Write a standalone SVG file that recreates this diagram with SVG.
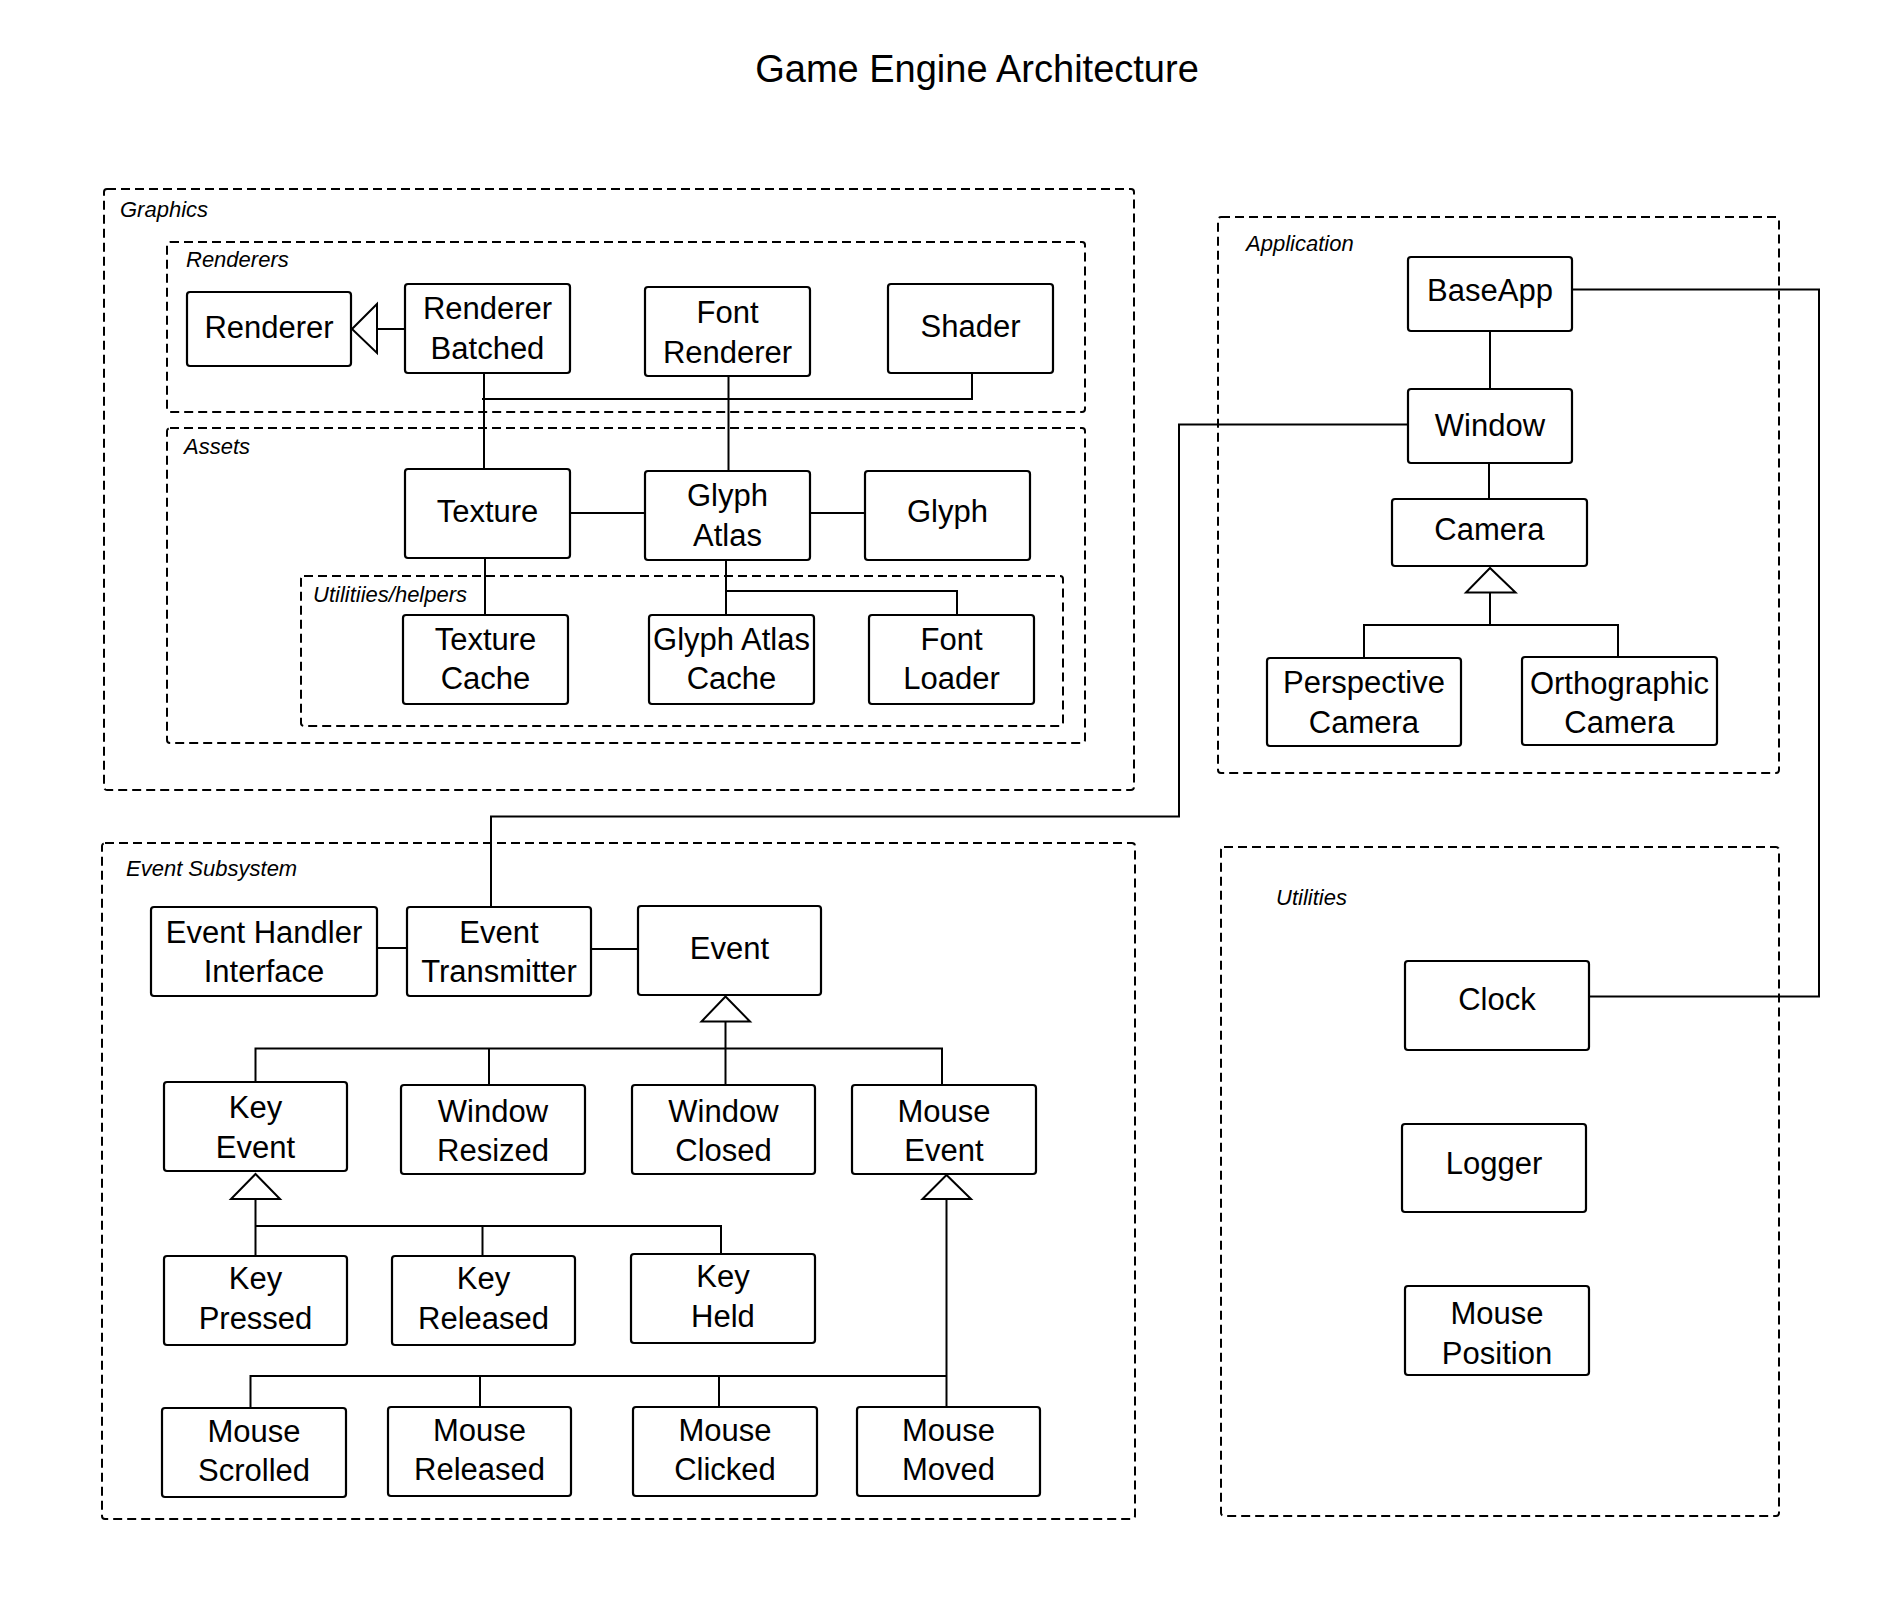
<svg xmlns="http://www.w3.org/2000/svg" width="1900" height="1600" viewBox="0 0 1900 1600">
<style>
.bg{fill:#ffffff}
.grp{fill:none;stroke:#000;stroke-width:2;stroke-dasharray:9 5}
.node rect{fill:#fff;stroke:#000;stroke-width:2.2}
.node text{font-family:"Liberation Sans",Arial,sans-serif;font-size:31px;fill:#000;text-anchor:middle}
.lbl{font-family:"Liberation Sans",Arial,sans-serif;font-size:22px;font-style:italic;fill:#000}
.title{font-family:"Liberation Sans",Arial,sans-serif;font-size:38px;fill:#000;text-anchor:middle}
#connectors line,#connectors polyline{fill:none;stroke:#000;stroke-width:2}
#connectors polygon{fill:#fff;stroke:#000;stroke-width:2}
</style>
<rect class="bg" x="0" y="0" width="1900" height="1600"/>
<text class="title" x="977" y="82">Game Engine Architecture</text>

<g id="groups">
  <g id="grp-graphics"><rect class="grp" x="104" y="189" width="1030" height="601" rx="3"/><text class="lbl" x="120" y="217">Graphics</text></g>
  <g id="grp-renderers"><rect class="grp" x="167" y="242" width="918" height="170" rx="3"/><text class="lbl" x="186" y="267">Renderers</text></g>
  <g id="grp-assets"><rect class="grp" x="167" y="428" width="918" height="315" rx="3"/><text class="lbl" x="184" y="454">Assets</text></g>
  <g id="grp-helpers"><rect class="grp" x="301" y="576" width="762" height="150" rx="3"/><text class="lbl" x="313" y="602">Utilitiies/helpers</text></g>
  <g id="grp-application"><rect class="grp" x="1218" y="217" width="561" height="556" rx="3"/><text class="lbl" x="1246" y="251">Application</text></g>
  <g id="grp-events"><rect class="grp" x="102" y="843" width="1033" height="676" rx="3"/><text class="lbl" x="126" y="876">Event Subsystem</text></g>
  <g id="grp-utilities"><rect class="grp" x="1221" y="847" width="558" height="669" rx="3"/><text class="lbl" x="1276" y="905">Utilities</text></g>
</g>

<g id="connectors">
  <!-- Renderer Batched -> Renderer (generalization) -->
  <line x1="405" y1="329" x2="377" y2="329"/>
  <polygon points="352,329 377,304 377,353"/>
  <!-- Renderer Batched / Texture -->
  <line x1="484" y1="373" x2="484" y2="469"/>
  <!-- Renderers bus to Shader -->
  <polyline points="482,399 972,399 972,373"/>
  <!-- Font Renderer / Glyph Atlas -->
  <line x1="728.5" y1="376" x2="728.5" y2="471"/>
  <!-- Texture / Glyph Atlas / Glyph -->
  <line x1="570" y1="513" x2="645" y2="513"/>
  <line x1="810" y1="513" x2="865" y2="513"/>
  <!-- Texture / Texture Cache -->
  <line x1="485" y1="558" x2="485" y2="615"/>
  <!-- Glyph Atlas / Glyph Atlas Cache / Font Loader -->
  <line x1="726" y1="560" x2="726" y2="615"/>
  <polyline points="726,591 957,591 957,615"/>

  <!-- Application -->
  <line x1="1490" y1="331" x2="1490" y2="389"/>
  <line x1="1489" y1="463" x2="1489" y2="499"/>
  <polygon points="1490,568 1466,592.5 1515.5,592.5"/>
  <line x1="1490" y1="592.5" x2="1490" y2="625"/>
  <polyline points="1364,658 1364,625 1618,625 1618,657"/>

  <!-- BaseApp -> Clock -->
  <polyline points="1572,289.5 1819,289.5 1819,996.5 1589,996.5"/>
  <!-- Window -> Event Transmitter -->
  <polyline points="1408,424.5 1179,424.5 1179,816.5 491,816.5 491,907"/>

  <!-- Event Subsystem top -->
  <line x1="377" y1="948" x2="407" y2="948"/>
  <line x1="591" y1="949" x2="638" y2="949"/>
  <polygon points="725.5,996.5 701.5,1021.5 750,1021.5"/>
  <line x1="725.5" y1="1021.5" x2="725.5" y2="1085"/>
  <polyline points="255.5,1082 255.5,1048.5 942,1048.5 942,1085"/>
  <line x1="489" y1="1048.5" x2="489" y2="1085"/>

  <!-- Key Event children -->
  <polygon points="255.5,1174 231,1199 280,1199"/>
  <line x1="255.5" y1="1199" x2="255.5" y2="1256"/>
  <polyline points="255.5,1226 721,1226 721,1254"/>
  <line x1="482.5" y1="1226" x2="482.5" y2="1256"/>

  <!-- Mouse Event children -->
  <polygon points="946.5,1175 922.5,1199 971,1199"/>
  <line x1="946.5" y1="1199" x2="946.5" y2="1407"/>
  <polyline points="250.5,1408 250.5,1376 946.5,1376"/>
  <line x1="480" y1="1376" x2="480" y2="1407"/>
  <line x1="719" y1="1376" x2="719" y2="1407"/>
</g>

<g id="n-renderer" class="node"><rect x="187" y="292" width="164" height="74" rx="3"/><text x="269" y="338">Renderer</text></g>
<g id="n-renderer-batched" class="node"><rect x="405" y="284" width="165" height="89" rx="3"/><text x="487.5" y="319">Renderer</text><text x="487.5" y="359">Batched</text></g>
<g id="n-font-renderer" class="node"><rect x="645" y="287" width="165" height="89" rx="3"/><text x="727.5" y="323">Font</text><text x="727.5" y="363">Renderer</text></g>
<g id="n-shader" class="node"><rect x="888" y="284" width="165" height="89" rx="3"/><text x="970.5" y="337">Shader</text></g>
<g id="n-texture" class="node"><rect x="405" y="469" width="165" height="89" rx="3"/><text x="487.5" y="522">Texture</text></g>
<g id="n-glyph-atlas" class="node"><rect x="645" y="471" width="165" height="89" rx="3"/><text x="727.5" y="506">Glyph</text><text x="727.5" y="546">Atlas</text></g>
<g id="n-glyph" class="node"><rect x="865" y="471" width="165" height="89" rx="3"/><text x="947.5" y="522">Glyph</text></g>
<g id="n-texture-cache" class="node"><rect x="403" y="615" width="165" height="89" rx="3"/><text x="485.5" y="650">Texture</text><text x="485.5" y="689">Cache</text></g>
<g id="n-glyph-atlas-cache" class="node"><rect x="649" y="615" width="165" height="89" rx="3"/><text x="731.5" y="650">Glyph Atlas</text><text x="731.5" y="689">Cache</text></g>
<g id="n-font-loader" class="node"><rect x="869" y="615" width="165" height="89" rx="3"/><text x="951.5" y="650">Font</text><text x="951.5" y="689">Loader</text></g>

<g id="n-baseapp" class="node"><rect x="1408" y="257" width="164" height="74" rx="3"/><text x="1490" y="301">BaseApp</text></g>
<g id="n-window" class="node"><rect x="1408" y="389" width="164" height="74" rx="3"/><text x="1490" y="436">Window</text></g>
<g id="n-camera" class="node"><rect x="1392" y="499" width="195" height="67" rx="3"/><text x="1489.5" y="540">Camera</text></g>
<g id="n-perspective-camera" class="node"><rect x="1267" y="658" width="194" height="88" rx="3"/><text x="1364" y="693">Perspective</text><text x="1364" y="733">Camera</text></g>
<g id="n-orthographic-camera" class="node"><rect x="1522" y="657" width="195" height="88" rx="3"/><text x="1619.5" y="694">Orthographic</text><text x="1619.5" y="733">Camera</text></g>

<g id="n-event-handler-interface" class="node"><rect x="151" y="907" width="226" height="89" rx="3"/><text x="264" y="943">Event Handler</text><text x="264" y="982">Interface</text></g>
<g id="n-event-transmitter" class="node"><rect x="407" y="907" width="184" height="89" rx="3"/><text x="499" y="943">Event</text><text x="499" y="982">Transmitter</text></g>
<g id="n-event" class="node"><rect x="638" y="906" width="183" height="89" rx="3"/><text x="729.5" y="959">Event</text></g>
<g id="n-key-event" class="node"><rect x="164" y="1082" width="183" height="89" rx="3"/><text x="255.5" y="1118">Key</text><text x="255.5" y="1158">Event</text></g>
<g id="n-window-resized" class="node"><rect x="401" y="1085" width="184" height="89" rx="3"/><text x="493" y="1122">Window</text><text x="493" y="1161">Resized</text></g>
<g id="n-window-closed" class="node"><rect x="632" y="1085" width="183" height="89" rx="3"/><text x="723.5" y="1122">Window</text><text x="723.5" y="1161">Closed</text></g>
<g id="n-mouse-event" class="node"><rect x="852" y="1085" width="184" height="89" rx="3"/><text x="944" y="1122">Mouse</text><text x="944" y="1161">Event</text></g>
<g id="n-key-pressed" class="node"><rect x="164" y="1256" width="183" height="89" rx="3"/><text x="255.5" y="1289">Key</text><text x="255.5" y="1329">Pressed</text></g>
<g id="n-key-released" class="node"><rect x="392" y="1256" width="183" height="89" rx="3"/><text x="483.5" y="1289">Key</text><text x="483.5" y="1329">Released</text></g>
<g id="n-key-held" class="node"><rect x="631" y="1254" width="184" height="89" rx="3"/><text x="723" y="1287">Key</text><text x="723" y="1327">Held</text></g>
<g id="n-mouse-scrolled" class="node"><rect x="162" y="1408" width="184" height="89" rx="3"/><text x="254" y="1442">Mouse</text><text x="254" y="1481">Scrolled</text></g>
<g id="n-mouse-released" class="node"><rect x="388" y="1407" width="183" height="89" rx="3"/><text x="479.5" y="1441">Mouse</text><text x="479.5" y="1480">Released</text></g>
<g id="n-mouse-clicked" class="node"><rect x="633" y="1407" width="184" height="89" rx="3"/><text x="725" y="1441">Mouse</text><text x="725" y="1480">Clicked</text></g>
<g id="n-mouse-moved" class="node"><rect x="857" y="1407" width="183" height="89" rx="3"/><text x="948.5" y="1441">Mouse</text><text x="948.5" y="1480">Moved</text></g>

<g id="n-clock" class="node"><rect x="1405" y="961" width="184" height="89" rx="3"/><text x="1497" y="1010">Clock</text></g>
<g id="n-logger" class="node"><rect x="1402" y="1124" width="184" height="88" rx="3"/><text x="1494" y="1174">Logger</text></g>
<g id="n-mouse-position" class="node"><rect x="1405" y="1286" width="184" height="89" rx="3"/><text x="1497" y="1324">Mouse</text><text x="1497" y="1364">Position</text></g>
</svg>
